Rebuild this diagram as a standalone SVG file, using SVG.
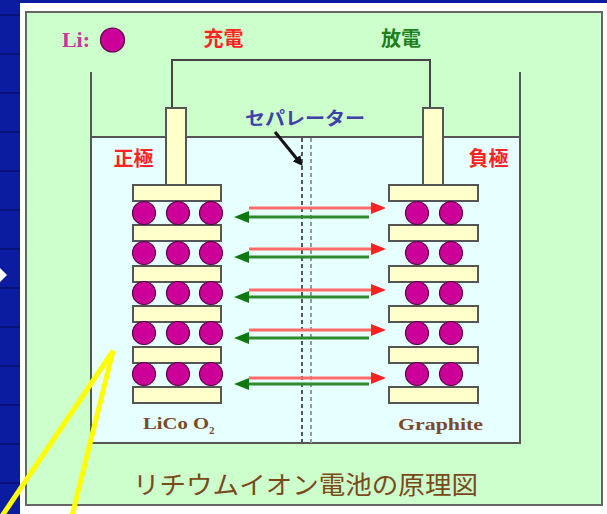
<svg xmlns="http://www.w3.org/2000/svg" width="607" height="514" viewBox="0 0 607 514">
  <style>
    .plate { fill: #ffffcc; stroke: #555; stroke-width: 2; }
    .li { fill: #cc0099; stroke: #550044; stroke-width: 1.2; }
    .wall { fill: none; stroke: #555; stroke-width: 2; }
    .chg { stroke: #ff6b6b; stroke-width: 3; fill: none; }
    .dis { stroke: #2f8a2f; stroke-width: 3; fill: none; }
    .jp { font-family: "Noto Sans CJK JP", "Noto Sans", sans-serif; font-weight: bold; }
    .en { font-family: "Liberation Serif", serif; font-weight: bold; fill: #7a4a2a; }
  </style>
  <defs>
    <pattern id="bgtex" width="40" height="39" patternUnits="userSpaceOnUse">
      <rect width="40" height="39" fill="#0b1ca0"/>
      <line x1="0" y1="15" x2="40" y2="15" stroke="#06127a" stroke-width="2"/>
    </pattern>
    <marker id="headRed" markerUnits="userSpaceOnUse" markerWidth="16" markerHeight="14" refX="1" refY="7" orient="auto">
      <path d="M0,1 L15,7 L0,13 Z" fill="#ff2020"/>
    </marker>
    <marker id="headGreen" markerUnits="userSpaceOnUse" markerWidth="16" markerHeight="14" refX="1" refY="7" orient="auto">
      <path d="M0,1 L15,7 L0,13 Z" fill="#117711"/>
    </marker>
    <marker id="headBlack" markerUnits="userSpaceOnUse" markerWidth="12" markerHeight="10" refX="1" refY="5" orient="auto">
      <path d="M0,0 L10,5 L0,10 Z" fill="#111"/>
    </marker>
  </defs>

  <!-- slide backdrop -->
  <rect x="0" y="0" width="607" height="514" fill="url(#bgtex)"/>
  <path d="M0,268 L7,275 L0,282 Z" fill="#ffffff"/>
  <rect x="20" y="3" width="587" height="511" fill="#ffffff"/>
  <rect x="26" y="12" width="576" height="493" fill="#ccffcc" stroke="#666" stroke-width="2"/>

  <!-- beaker and electrolyte -->
  <g id="beaker">
    <rect x="91" y="137" width="429" height="306" fill="#e6ffff"/>
    <path class="wall" d="M91,72 V443 H520 V72"/>
    <line class="wall" x1="91" y1="137" x2="520" y2="137"/>
  </g>

  <!-- external circuit -->
  <g id="wire">
    <path d="M172,108 V60 H430 V108" fill="none" stroke="#444" stroke-width="2"/>
  </g>

  <!-- separator -->
  <g id="separator">
    <line x1="302" y1="138" x2="302" y2="443" stroke="#555" stroke-width="2" stroke-dasharray="4 3"/>
    <line x1="311" y1="138" x2="311" y2="443" stroke="#999" stroke-width="2" stroke-dasharray="4 3"/>
  </g>

  <!-- positive electrode: LiCoO2 -->
  <g id="cathode">
    <rect class="plate" x="166" y="108" width="20" height="77"/>
    <rect class="plate" x="133" y="185" width="88" height="16"/>
    <rect class="plate" x="133" y="225" width="88" height="16"/>
    <rect class="plate" x="133" y="266" width="88" height="16"/>
    <rect class="plate" x="133" y="306" width="88" height="16"/>
    <rect class="plate" x="133" y="347" width="88" height="16"/>
    <rect class="plate" x="133" y="387" width="88" height="16"/>
    <g class="li">
      <circle cx="144" cy="213" r="11.5"/><circle cx="178" cy="213" r="11.5"/><circle cx="211" cy="213" r="11.5"/>
      <circle cx="144" cy="253" r="11.5"/><circle cx="178" cy="253" r="11.5"/><circle cx="211" cy="253" r="11.5"/>
      <circle cx="144" cy="293" r="11.5"/><circle cx="178" cy="293" r="11.5"/><circle cx="211" cy="293" r="11.5"/>
      <circle cx="144" cy="333" r="11.5"/><circle cx="178" cy="333" r="11.5"/><circle cx="211" cy="333" r="11.5"/>
      <circle cx="144" cy="374" r="11.5"/><circle cx="178" cy="374" r="11.5"/><circle cx="211" cy="374" r="11.5"/>
    </g>
    <text class="en" x="143" y="429" font-size="17" textLength="66" lengthAdjust="spacingAndGlyphs">LiCo O</text>
    <text class="en" x="209" y="434" font-size="11">2</text>
  </g>

  <!-- negative electrode: graphite -->
  <g id="anode">
    <rect class="plate" x="423" y="108" width="20" height="77"/>
    <rect class="plate" x="389" y="185" width="89" height="16"/>
    <rect class="plate" x="389" y="225" width="89" height="16"/>
    <rect class="plate" x="389" y="266" width="89" height="16"/>
    <rect class="plate" x="389" y="306" width="89" height="16"/>
    <rect class="plate" x="389" y="347" width="89" height="16"/>
    <rect class="plate" x="389" y="387" width="89" height="16"/>
    <g class="li">
      <circle cx="417" cy="213" r="11.5"/><circle cx="451" cy="213" r="11.5"/>
      <circle cx="417" cy="253" r="11.5"/><circle cx="451" cy="253" r="11.5"/>
      <circle cx="417" cy="293" r="11.5"/><circle cx="451" cy="293" r="11.5"/>
      <circle cx="417" cy="333" r="11.5"/><circle cx="451" cy="333" r="11.5"/>
      <circle cx="417" cy="374" r="11.5"/><circle cx="451" cy="374" r="11.5"/>
    </g>
    <text class="en" x="398" y="430" font-size="17" textLength="85" lengthAdjust="spacingAndGlyphs">Graphite</text>
  </g>

  <!-- ion flow: charge (red, to anode) and discharge (green, to cathode) -->
  <g id="connectors">
    <line class="chg" x1="249" y1="208" x2="372" y2="208" marker-end="url(#headRed)"/>
    <line class="dis" x1="369" y1="217" x2="248" y2="217" marker-end="url(#headGreen)"/>
    <line class="chg" x1="249" y1="249" x2="372" y2="249" marker-end="url(#headRed)"/>
    <line class="dis" x1="369" y1="257" x2="248" y2="257" marker-end="url(#headGreen)"/>
    <line class="chg" x1="249" y1="290" x2="372" y2="290" marker-end="url(#headRed)"/>
    <line class="dis" x1="369" y1="297" x2="248" y2="297" marker-end="url(#headGreen)"/>
    <line class="chg" x1="249" y1="330" x2="372" y2="330" marker-end="url(#headRed)"/>
    <line class="dis" x1="369" y1="338" x2="248" y2="338" marker-end="url(#headGreen)"/>
    <line class="chg" x1="249" y1="378" x2="372" y2="378" marker-end="url(#headRed)"/>
    <line class="dis" x1="369" y1="384" x2="248" y2="384" marker-end="url(#headGreen)"/>
    <line x1="275" y1="132" x2="297" y2="159" stroke="#111" stroke-width="3" marker-end="url(#headBlack)"/>
  </g>

  <!-- labels -->
  <g id="legend">
    <text x="62" y="47" font-family="Liberation Serif, serif" font-weight="bold" font-size="20" fill="#cc3399" textLength="28" lengthAdjust="spacingAndGlyphs">Li:</text>
    <circle class="li" cx="112.5" cy="40" r="12"/>
  </g>
  <text class="jp" x="223.5" y="46" font-size="20" fill="#ff2222" text-anchor="middle">充電</text>
  <text class="jp" x="401" y="46" font-size="20" fill="#1f7f1f" text-anchor="middle">放電</text>
  <text class="jp" x="133.5" y="166" font-size="20" fill="#ff2222" text-anchor="middle">正極</text>
  <text class="jp" x="488.5" y="166" font-size="20" fill="#ff2222" text-anchor="middle">負極</text>
  <text class="jp" x="245" y="125" font-size="18" fill="#4040a8" textLength="120" lengthAdjust="spacingAndGlyphs">セパレーター</text>
  <text x="133" y="494" font-family="Noto Sans CJK JP, sans-serif" font-size="25" fill="#7a4a1a" textLength="345" lengthAdjust="spacingAndGlyphs">リチウムイオン電池の原理図</text>

  <!-- pointer overlay -->
  <path d="M2,516 L113,351 L72,516" fill="none" stroke="#ffff00" stroke-width="5" stroke-linejoin="miter"/>
</svg>
